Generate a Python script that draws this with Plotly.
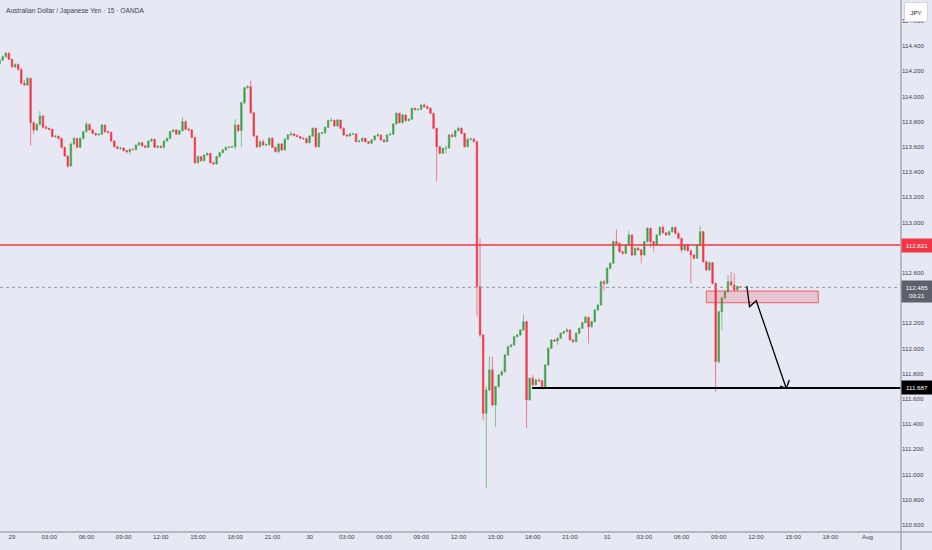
import plotly.graph_objects as go

# ---- data (bar index 0 = 29th 00:00, 15-minute bars) ----
first_open = 114.257
closes = [
 114.289,114.315,114.342,114.294,114.236,114.254,114.215,114.104,114.090,114.143,
 113.792,113.734,113.778,113.845,113.755,113.747,113.739,113.681,113.684,113.667,
 113.596,113.527,113.448,113.623,113.667,113.596,113.667,113.720,113.778,113.734,
 113.707,113.694,113.700,113.773,113.720,113.715,113.646,113.601,113.588,113.590,
 113.570,113.562,113.580,113.578,113.615,113.633,113.607,113.596,113.646,113.660,
 113.596,113.605,113.596,113.646,113.667,113.720,113.734,113.700,113.728,113.800,
 113.740,113.734,113.675,113.474,113.522,113.490,113.535,113.548,113.474,113.464,
 113.522,113.554,113.575,113.596,113.598,113.601,113.773,113.728,113.950,114.069,
 114.077,113.871,113.686,113.601,113.641,113.615,113.617,113.668,113.596,113.562,
 113.623,113.575,113.660,113.694,113.702,113.690,113.681,113.668,113.665,113.633,
 113.686,113.747,113.601,113.707,113.712,113.755,113.808,113.810,113.765,113.813,
 113.747,113.694,113.686,113.702,113.702,113.641,113.645,113.668,113.641,113.628,
 113.655,113.686,113.694,113.655,113.641,113.694,113.700,113.781,113.866,113.792,
 113.853,113.808,113.818,113.906,113.895,113.898,113.932,113.919,113.906,113.866,
 113.747,113.601,113.549,113.588,113.590,113.694,113.681,113.728,113.747,113.707,
 113.601,113.660,113.662,113.641,112.491,112.107,111.486,111.671,111.830,111.552,
 111.697,111.790,111.816,111.949,112.015,112.028,112.094,112.107,112.147,112.213,
 111.592,111.764,111.711,111.750,111.745,111.684,111.869,112.001,112.068,112.060,
 112.081,112.121,112.134,112.147,112.068,112.054,112.121,112.160,112.205,112.247,
 112.173,112.213,112.306,112.345,112.530,112.517,112.636,112.676,112.848,112.834,
 112.768,112.755,112.821,112.901,112.742,112.795,112.782,112.742,112.848,112.954,
 112.848,112.821,112.901,112.961,112.919,112.901,112.927,112.961,112.914,112.874,
 112.782,112.821,112.776,112.742,112.716,112.821,112.927,112.689,112.623,112.681,
 112.517,111.896,112.292,112.400,112.451,112.530,112.504,112.464,112.491,112.485,
]
highs = [
 114.300,114.325,114.352,114.350,114.300,114.262,114.262,114.222,114.130,114.155,
 114.150,113.800,113.790,113.885,113.850,113.770,113.752,113.745,113.692,113.690,
 113.672,113.600,113.530,113.635,113.680,113.672,113.675,113.728,113.800,113.785,
 113.740,113.712,113.708,113.782,113.778,113.728,113.720,113.650,113.606,113.598,
 113.595,113.575,113.586,113.588,113.620,113.640,113.638,113.612,113.652,113.668,
 113.665,113.612,113.610,113.652,113.675,113.728,113.742,113.740,113.735,113.835,
 113.810,113.752,113.740,113.680,113.530,113.528,113.542,113.556,113.552,113.480,
 113.530,113.560,113.582,113.602,113.605,113.608,113.820,113.780,113.960,114.078,
 114.090,114.125,113.878,113.692,113.650,113.660,113.628,113.680,113.675,113.600,
 113.630,113.630,113.668,113.702,113.722,113.712,113.698,113.686,113.675,113.672,
 113.692,113.755,113.752,113.714,113.720,113.762,113.816,113.835,113.815,113.822,
 113.818,113.752,113.700,113.710,113.712,113.708,113.655,113.676,113.672,113.646,
 113.662,113.692,113.710,113.698,113.660,113.700,113.715,113.788,113.874,113.870,
 113.860,113.858,113.826,113.912,113.910,113.905,113.940,113.945,113.925,113.912,
 113.870,113.752,113.606,113.596,113.610,113.700,113.712,113.735,113.760,113.752,
 113.712,113.668,113.672,113.668,113.648,112.874,112.115,111.700,111.935,111.935,
 111.705,111.798,111.825,111.956,112.022,112.035,112.100,112.115,112.155,112.274,
 112.220,111.770,111.790,111.760,111.762,111.752,111.876,112.010,112.075,112.078,
 112.088,112.128,112.142,112.165,112.152,112.075,112.128,112.168,112.212,112.262,
 112.252,112.220,112.312,112.352,112.538,112.545,112.645,112.685,112.856,112.945,
 112.840,112.775,112.828,112.935,112.906,112.802,112.805,112.790,112.855,112.962,
 112.960,112.852,112.908,112.968,112.975,112.925,112.935,112.970,112.966,112.920,
 112.878,112.828,112.826,112.780,112.748,112.828,112.972,112.932,112.695,112.688,
 112.686,112.522,112.300,112.410,112.460,112.583,112.610,112.597,112.500,112.495,
]
lows = [
 114.250,114.282,114.308,114.288,114.228,114.225,114.205,114.095,114.082,114.085,
 113.610,113.700,113.725,113.770,113.745,113.740,113.730,113.675,113.672,113.660,
 113.588,113.520,113.430,113.445,113.615,113.588,113.590,113.660,113.715,113.728,
 113.700,113.688,113.688,113.695,113.712,113.705,113.640,113.595,113.580,113.578,
 113.565,113.545,113.540,113.570,113.575,113.610,113.600,113.590,113.590,113.640,
 113.590,113.588,113.588,113.585,113.640,113.660,113.715,113.695,113.695,113.722,
 113.732,113.725,113.668,113.465,113.465,113.482,113.485,113.530,113.466,113.456,
 113.458,113.515,113.548,113.570,113.590,113.592,113.580,113.720,113.600,113.940,
 114.060,113.860,113.678,113.590,113.595,113.608,113.605,113.610,113.590,113.555,
 113.548,113.568,113.570,113.655,113.690,113.684,113.675,113.660,113.655,113.626,
 113.628,113.680,113.594,113.595,113.700,113.705,113.750,113.800,113.758,113.760,
 113.740,113.688,113.678,113.680,113.694,113.635,113.636,113.640,113.635,113.620,
 113.622,113.650,113.680,113.648,113.632,113.636,113.690,113.695,113.776,113.785,
 113.786,113.800,113.800,113.812,113.888,113.885,113.890,113.910,113.898,113.858,
 113.740,113.324,113.540,113.545,113.550,113.585,113.675,113.676,113.722,113.700,
 113.594,113.596,113.650,113.635,112.253,112.090,111.433,110.893,111.660,111.540,
 111.380,111.690,111.782,111.808,111.940,112.008,112.020,112.088,112.100,112.140,
 111.367,111.585,111.700,111.705,111.735,111.675,111.678,111.862,111.995,112.052,
 112.030,112.075,112.115,112.128,112.060,112.045,112.048,112.115,112.155,112.200,
 112.040,112.165,112.206,112.300,112.340,112.460,112.510,112.628,112.670,112.826,
 112.760,112.745,112.750,112.815,112.735,112.736,112.775,112.676,112.735,112.840,
 112.800,112.770,112.815,112.895,112.912,112.895,112.898,112.920,112.905,112.866,
 112.760,112.775,112.768,112.517,112.708,112.710,112.815,112.680,112.615,112.618,
 112.508,111.658,111.880,112.147,112.392,112.445,112.496,112.455,112.460,112.478,
]
opens = [first_open] + closes[:-1]
bars = list(range(-4, -4 + len(closes)))

tick_bars = list(range(0, 288, 12))
tick_labels = ["29", "03:00", "06:00", "09:00", "12:00", "15:00", "18:00", "21:00",
               "30", "03:00", "06:00", "09:00", "12:00", "15:00", "18:00", "21:00",
               "31", "03:00", "06:00", "09:00", "12:00", "15:00", "18:00", "Aug"]
# 112.800 and 112.400 are hidden behind the price tags in the original
price_ticks = [110.6, 110.8, 111.0, 111.2, 111.4, 111.6, 111.8, 112.0, 112.2,
               112.6, 113.0, 113.2, 113.4, 113.6, 113.8, 114.0, 114.2, 114.4, 114.6]
price_tick_text = ["%.3f" % v for v in price_ticks]

resistance_level = 112.821
last_price = 112.485
target_level = 111.687
countdown = "00:21"
zone_bars = [224.0, 260.1]
zone_prices = [112.363, 112.456]
target_start_bar = 167.8
path_bars = [237.06, 237.94, 240.1, 249.77]
path_prices = [112.496, 112.332, 112.379, 111.684]
head_bars = [247.8, 249.77, 250.8]
head_prices = [111.702, 111.684, 111.75]

X_RANGE = [-3.87, 286.8]
Y_RANGE = [110.544, 114.765]

BG = "#e6e9f3"
GREEN = "#43a047"
RED = "#f23645"
FONT = "Liberation Sans, Arial, sans-serif"
TXT = "#3f434e"

fig = go.Figure()
fig.add_trace(go.Candlestick(
    x=bars, open=opens, high=highs, low=lows, close=closes,
    increasing=dict(line=dict(color="rgba(67,160,71,0.6)", width=1), fillcolor=GREEN),
    decreasing=dict(line=dict(color="rgba(242,54,69,0.6)", width=1), fillcolor=RED),
    whiskerwidth=0, showlegend=False, hoverinfo="skip",
))

shapes = []
shapes.append(dict(type="line", xref="paper", x0=0, x1=1, yref="y",
                   y0=resistance_level, y1=resistance_level,
                   line=dict(color=RED, width=1.5), layer="above"))
shapes.append(dict(type="line", xref="paper", x0=0, x1=1, yref="y",
                   y0=last_price, y1=last_price,
                   line=dict(color="#9598a1", width=1, dash="dot"), layer="above"))
shapes.append(dict(type="line", xref="x", x0=target_start_bar, x1=X_RANGE[1], yref="y",
                   y0=target_level, y1=target_level,
                   line=dict(color="#000000", width=2), layer="above"))
shapes.append(dict(type="rect", xref="x", yref="y", x0=zone_bars[0], x1=zone_bars[1],
                   y0=zone_prices[0], y1=zone_prices[1],
                   fillcolor="rgba(242,54,69,0.2)",
                   line=dict(color="rgba(242,54,69,0.75)", width=1), layer="above"))
p = "M " + " L ".join("%f,%f" % (a, b) for a, b in zip(path_bars, path_prices))
shapes.append(dict(type="path", path=p, xref="x", yref="y",
                   line=dict(color="#000000", width=1.3), layer="above"))
h = "M " + " L ".join("%f,%f" % (a, b) for a, b in zip(head_bars, head_prices))
shapes.append(dict(type="path", path=h, xref="x", yref="y",
                   line=dict(color="#000000", width=1.3), layer="above"))
shapes.append(dict(type="line", xref="paper", yref="paper", x0=0, x1=932 / 901,
                   y0=0, y1=0, line=dict(color="#a3a7b1", width=1.5), layer="above"))
shapes.append(dict(type="line", xref="paper", yref="paper", x0=1, x1=1,
                   y0=-18 / 532, y1=1, line=dict(color="#a3a7b1", width=1.5), layer="above"))

annotations = []
annotations.append(dict(text="Australian Dollar / Japanese Yen · 15 · OANDA",
                        xref="paper", yref="paper", x=4 / 901, y=1 - 11 / 532,
                        xanchor="left", yanchor="middle", showarrow=False,
                        font=dict(family=FONT, size=6.6, color=TXT)))

def price_tag(value, text, bg):
    return dict(text=text, xref="paper", yref="y", x=1.0, y=value, xanchor="left",
                yanchor="middle", showarrow=False, bgcolor=bg, borderpad=2,
                width=26, height=9, align="center",
                font=dict(family=FONT, size=6.2, color="#ffffff"))

annotations.append(price_tag(resistance_level, "112.821", RED))
annotations.append(dict(text="112.485<br>" + countdown, xref="paper", yref="y", x=1.0,
                        y=last_price, xanchor="left", yanchor="top", yshift=7,
                        showarrow=False, bgcolor="#5d616c", borderpad=2, width=26,
                        height=17, align="center",
                        font=dict(family=FONT, size=6.2, color="#ffffff")))
annotations.append(price_tag(target_level, "111.687", "#000000"))
annotations.append(dict(text="JPY", xref="paper", yref="paper", x=1 + 3 / 901,
                        y=1 - 2 / 532, xanchor="left", yanchor="top", showarrow=False,
                        bgcolor="#ffffff", bordercolor="#d0d3db", borderwidth=1,
                        borderpad=3, width=16, height=12,
                        font=dict(family=FONT, size=6.2, color="#131722")))

fig.update_layout(
    width=932, height=550,
    margin=dict(l=0, r=31, t=0, b=18, pad=0),
    paper_bgcolor=BG, plot_bgcolor=BG,
    shapes=shapes, annotations=annotations,
    xaxis=dict(range=X_RANGE, tickvals=tick_bars, ticktext=tick_labels,
               showgrid=False, zeroline=False, rangeslider=dict(visible=False),
               ticks="", tickfont=dict(family=FONT, size=6.2, color=TXT),
               showline=False, fixedrange=True, automargin=False),
    yaxis=dict(range=Y_RANGE, side="right", tickvals=price_ticks,
               ticktext=price_tick_text, showgrid=False, zeroline=False, ticks="",
               tickfont=dict(family=FONT, size=6.2, color=TXT), showline=False,
               fixedrange=True, automargin=False),
)

fig.write_html("out.html", config={"displayModeBar": False},
               post_script="document.body.style.margin='0';")
